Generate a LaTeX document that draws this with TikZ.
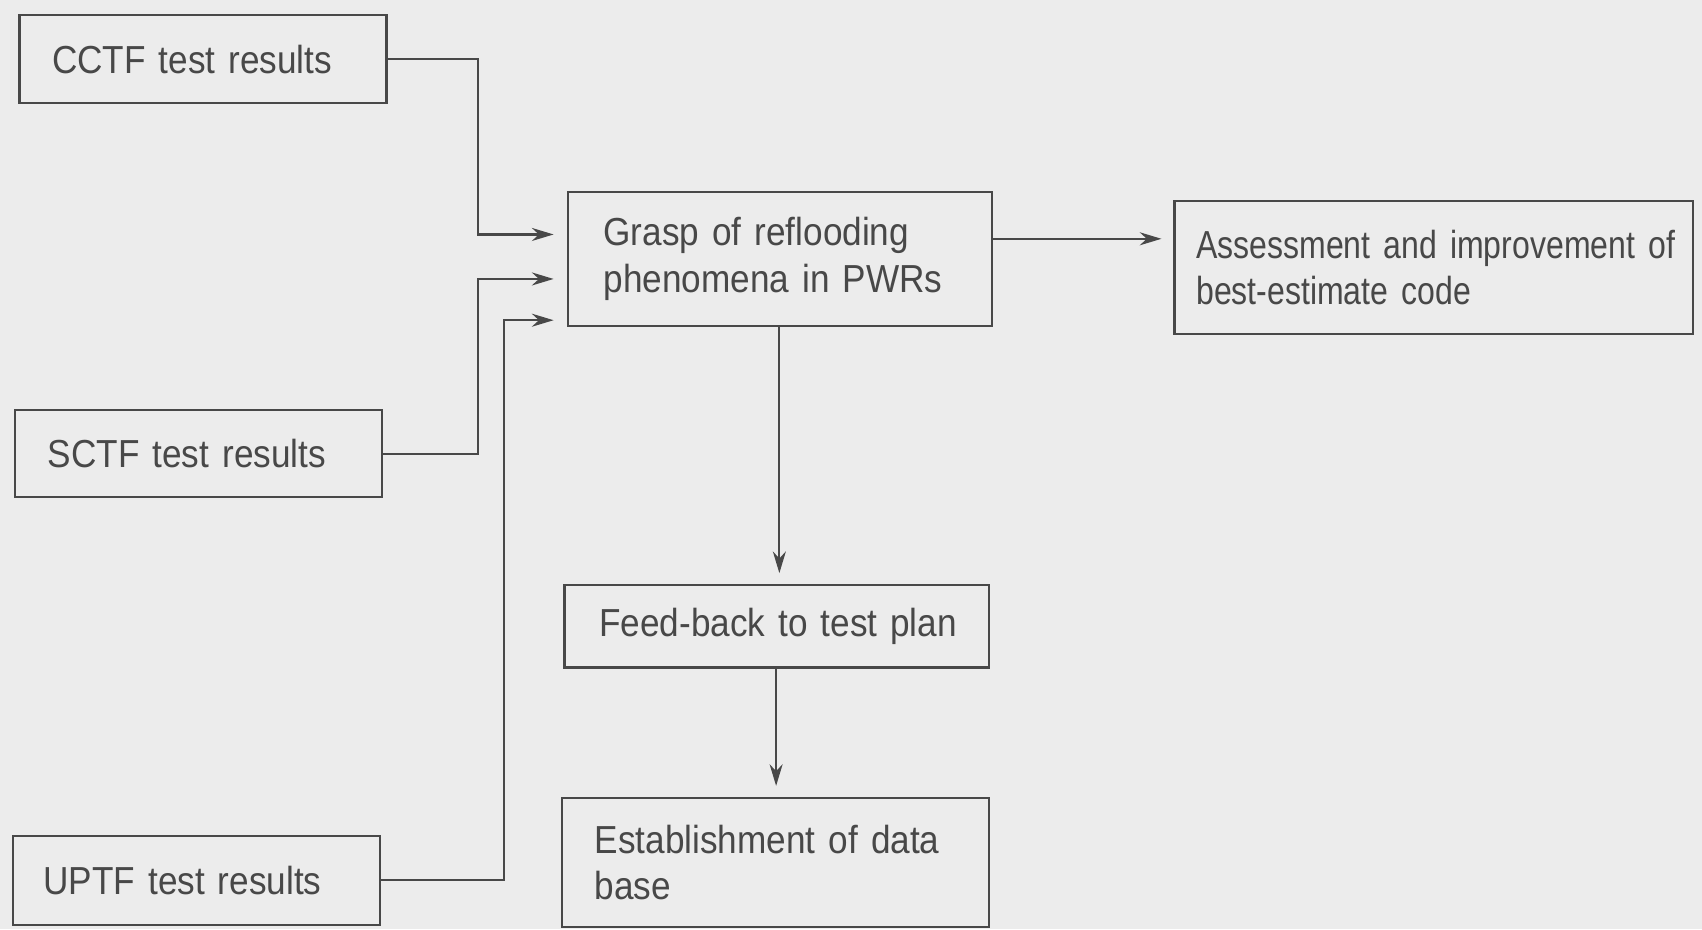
\documentclass[tikz,border=0pt]{standalone}
\usepackage{fontspec}
\setmainfont[FakeStretch=0.9]{Liberation Sans}
\newfontfamily\asfont[FakeStretch=0.82]{Liberation Sans}
\usetikzlibrary{arrows.meta}
\definecolor{bg}{RGB}{236,236,236}
\definecolor{ink}{RGB}{72,72,72}
\begin{document}
\begin{tikzpicture}[x=0.5pt,y=-0.5pt,
  bx/.style n args={3}{draw=ink, line width=1pt, text=ink,
    font=\fontsize{18}{21.5}\selectfont, align=left,
    text width=#1, inner xsep=#2, inner ysep=0pt, minimum height=#3},
  arr/.style={draw=ink, line width=1pt, -{Stealth[length=10pt,width=6pt]}},
  ln/.style={draw=ink, line width=1pt}]
\fill[bg] (0,0) rectangle (1568,856);
\useasboundingbox (0,0) rectangle (1568,856);

\node[bx={139pt}{15pt}{40.5pt}] (cctf) at (187,54.5) {\mbox{CCTF test results}};
\node[bx={139pt}{15pt}{40pt}] (sctf) at (183,418) {\mbox{SCTF test results}};
\node[bx={141pt}{14pt}{41pt}] (uptf) at (181,811) {\mbox{UPTF test results}};
\node[bx={162.5pt}{16.5pt}{61.5pt}] (grasp) at (718.5,238.5) {\mbox{Grasp of reflooding}\\\mbox{phenomena in PWRs}};
\node[bx={219pt}{10pt}{61.5pt}, font=\asfont\fontsize{18}{21}\selectfont] (assess) at (1321,246.5) {\mbox{Assessment and improvement of}\\\mbox{best-estimate code}};
\node[bx={163.5pt}{16pt}{38pt}] (feed) at (715.5,577) {\mbox{Feed-back to test plan}};
\node[bx={166.5pt}{15pt}{59.5pt}] (estab) at (714.5,794.5) {\mbox{Establishment of data}\\\mbox{base}};

\coordinate (g1) at (510,216);
\coordinate (g2) at (510,257);
\coordinate (g3) at (510,295);
\coordinate (a1) at (1070,220);
\coordinate (f1) at (718,528);
\coordinate (e1) at (715,724);

\draw[arr] (cctf.east) -- (440,54.5) |- (g1);
\draw[arr] (sctf.east) -- (440,418) |- (g2);
\draw[arr] (uptf.east) -- (464,811) |- (g3);
\draw[arr] (grasp.east |- a1) -- (a1);
\draw[arr] (grasp.south -| f1) -- (f1);
\draw[arr] (feed.south -| e1) -- (e1);
\end{tikzpicture}
\end{document}
